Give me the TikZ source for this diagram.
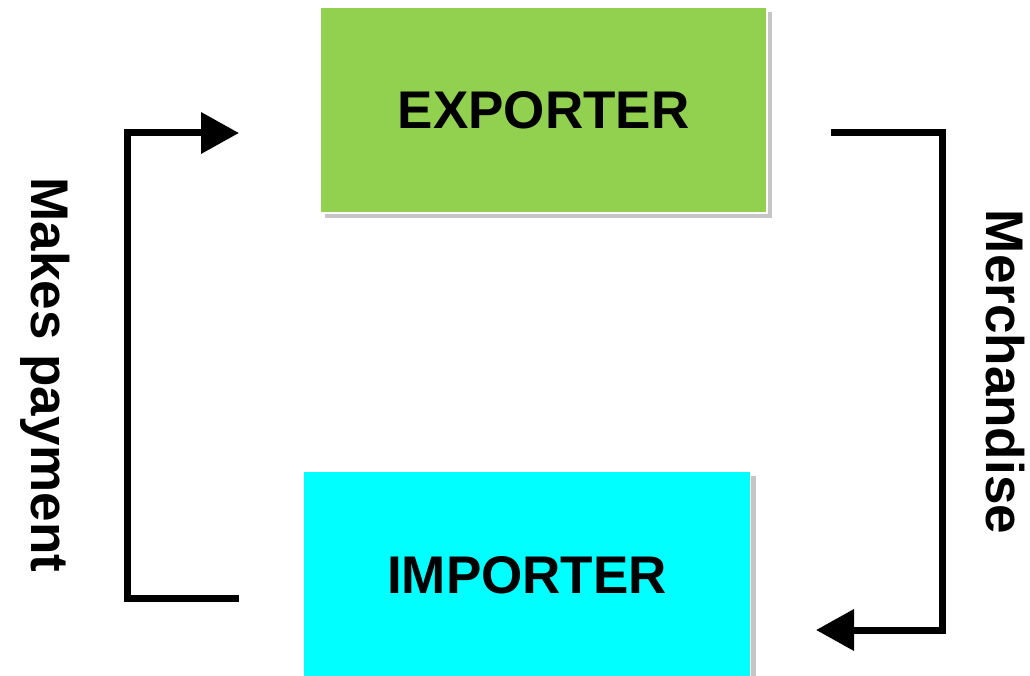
\documentclass[tikz,border=0pt]{standalone}
\usepackage{fontspec}
\setmainfont{Liberation Sans}
\usepackage{xcolor}
\usetikzlibrary{shadows}
\usetikzlibrary{arrows.meta}
\definecolor{ExporterBackground}{HTML}{92D050}
\definecolor{ImporterBackground}{HTML}{00FFFF}
\tikzstyle{TradeParty} =[draw=white,line width=1.5pt,drop shadow={shadow xshift=5pt,shadow yshift=-5pt,opacity=0.45},minimum width=447pt,font=\fontsize{53}{60}\selectfont\bfseries]
\tikzstyle{FlowLine} =[line width=7pt,-{Triangle[length=38pt,width=40pt]}]
\tikzstyle{FlowLabel} =[rotate=-90,font=\fontsize{53}{60}\selectfont\bfseries]
\begin{document}
\begin{tikzpicture}[x=1pt,y=-1pt]
    \useasboundingbox (0,0) rectangle (1030,676);
    \node[TradeParty,fill=ExporterBackground,minimum height=206pt] (Exporter) at (543.5,110) {EXPORTER};
    \node[TradeParty,fill=ImporterBackground,minimum height=208pt] (Importer) at (527,575) {IMPORTER};

    % free ends of the two flows
    \coordinate (Payment-Start) at (239,598);
    \coordinate (Payment-End) at (239,133);
    \coordinate (Merchandise-Start) at (831,133);
    \coordinate (Merchandise-End) at (816,630);

    \draw[FlowLine] (Payment-Start) -- ++(-112,0) |- (Payment-End);
    \draw[FlowLine] (Merchandise-Start) -- ++(111,0) |- (Merchandise-End);

    \node[FlowLabel] (Payment-Label) at (45,375) {Makes payment};
    \node[FlowLabel] (Merchandise-Label) at (1005,372) {Merchandise};
\end{tikzpicture}
\end{document}
